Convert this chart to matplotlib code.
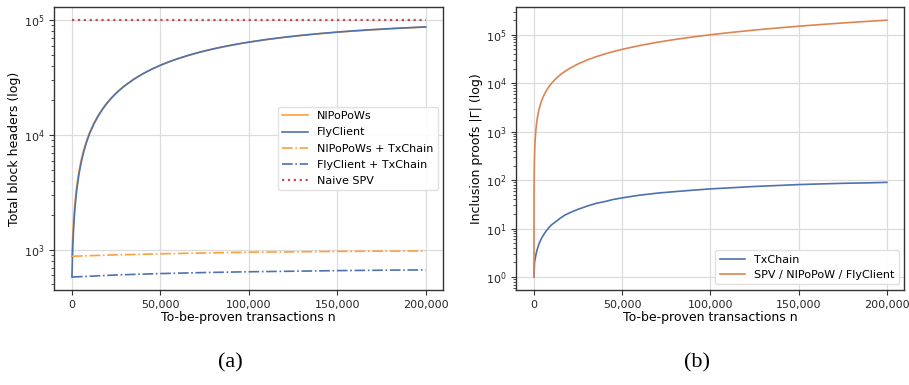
import matplotlib
matplotlib.use("Agg")
import matplotlib.pyplot as plt
from matplotlib.ticker import FuncFormatter

# ---------------- data ----------------
# (a) total block headers vs. to-be-proven transactions
n_a = [0, 250, 500, 750, 1000, 1500, 2000, 2500, 3000, 4000, 5000, 6000, 7000, 8500,
       10000, 12500, 15000, 17500, 20000, 22500, 25000, 27500, 30000, 35000, 40000,
       45000, 50000, 55000, 60000, 65000, 70000, 75000, 80000, 85000, 90000, 95000,
       100000, 110000, 120000, 130000, 140000, 150000, 160000, 170000, 180000, 190000, 200000]
nipopows = [880, 1135, 1390, 1640, 1895, 2400, 2900, 3400, 3890, 4870, 5850, 6810, 7760, 9170,
            10560, 12810, 15010, 17150, 19230, 21260, 23240, 25170, 27050, 30680, 34130,
            37410, 40520, 43480, 46280, 48950, 51490, 53900, 56180, 58360, 60430, 62400,
            64270, 67730, 70850, 73680, 76220, 78530, 80600, 82480, 84170, 85700, 87070]
flyclient = [580, 835, 1090, 1340, 1595, 2100, 2600, 3100, 3590, 4580, 5550, 6520, 7470, 8890,
             10290, 12550, 14770, 16930, 19030, 21080, 23080, 25030, 26930, 30580, 34050,
             37350, 40480, 43460, 46280, 48970, 51530, 53950, 56250, 58440, 60530, 62510,
             64390, 67870, 71010, 73860, 76420, 78740, 80830, 82720, 84420, 85960, 87340]
n_tx = [0, 25000, 50000, 75000, 100000, 125000, 150000, 175000, 200000]
nipopows_tx = [880, 905, 925, 940, 955, 962, 970, 975, 980]
flyclient_tx = [580, 605, 622, 635, 645, 652, 660, 665, 670]
n_spv = [0, 200000]
naive_spv = [100000, 100000]

# (b) inclusion proofs |Γ| vs. to-be-proven transactions
n_b = [1, 3, 10, 30, 100, 200, 300, 500, 700, 1000, 1500, 2000, 2500, 3000, 4000, 5000,
       6000, 7500, 9000, 10000, 12500, 15000, 17500, 20000, 25000, 30000, 35000, 40000,
       45000, 50000, 60000, 70000, 80000, 90000, 100000, 110000, 125000, 140000, 150000,
       165000, 175000, 190000, 200000]
spv_proofs = [1, 3, 10, 30, 100, 200, 300, 500, 700, 1000, 1500, 2000, 2500, 3000, 4000, 5000,
              6000, 7500, 9000, 10000, 12500, 15000, 17500, 20000, 25000, 30000, 35000, 40000,
              45000, 50000, 60000, 70000, 80000, 90000, 100000, 110000, 125000, 140000, 150000,
              165000, 175000, 190000, 200000]
n_chain = [0, 300, 1200, 2100, 3000, 4000, 5000, 6000, 7000, 8000, 9000, 10000, 12500,
           15000, 17500, 20000, 22500, 25000, 30000, 35000, 40000, 45000, 50000, 55000,
           60000, 70000, 80000, 90000, 100000, 110000, 125000, 140000, 150000, 165000,
           175000, 190000, 200000]
txchain = [1, 2, 3, 4, 5, 6, 7, 8, 9, 10, 11, 12, 14,
           16.5, 19, 21, 23, 25, 29, 33, 36, 40, 43, 46,
           49, 54, 58, 62, 66, 69, 74, 78, 81, 84,
           86, 88, 90]

BLUE, ORANGE_A, ORANGE_B, RED = "#4c72b0", "#ffa03a", "#dd8452", "#c44e52"
DARK = "#333333"

plt.rcParams.update({
    "font.family": "DejaVu Sans", "font.size": 8,
    "axes.edgecolor": DARK, "axes.linewidth": 1.0,
    "xtick.color": DARK, "ytick.color": DARK,
    "xtick.labelcolor": "#262626", "ytick.labelcolor": "#262626",
    "xtick.major.size": 3.5, "ytick.major.size": 3.5,
    "ytick.minor.size": 2, "ytick.minor.width": 0.6,
    "grid.color": "#dcdcdc", "grid.linewidth": 0.9,
})

fig = plt.figure(figsize=(9.09, 3.85), dpi=100)
axa = fig.add_axes([0.0597, 0.247, 0.428, 0.734])
axb = fig.add_axes([0.568, 0.247, 0.427, 0.734])
thousands = FuncFormatter(lambda v, p: f"{int(v):,}")

# ---- (a) ----
axa.plot(n_a, nipopows, color=ORANGE_A, lw=1.2, label="NIPoPoWs")
axa.plot(n_a, flyclient, color=BLUE, lw=1.2, label="FlyClient")
axa.plot(n_tx, nipopows_tx, color=ORANGE_A, lw=1.2, ls="-.", label="NIPoPoWs + TxChain")
axa.plot(n_tx, flyclient_tx, color=BLUE, lw=1.2, ls="-.", label="FlyClient + TxChain")
axa.plot(n_spv, naive_spv, color=RED, lw=1.6, ls=":", label="Naive SPV")
axa.set_yscale("log")
axa.set_ylabel("Total block headers (log)", fontsize=9, labelpad=2)
axa.legend(loc="center right", fontsize=8, frameon=True, framealpha=0.9,
           edgecolor="#dddddd", handlelength=2.3, labelspacing=0.55)

# ---- (b) ----
axb.plot(n_chain, txchain, color=BLUE, lw=1.2, label="TxChain")
axb.plot(n_b, spv_proofs, color=ORANGE_B, lw=1.2, label="SPV / NIPoPoW / FlyClient")
axb.set_yscale("log")
axb.set_ylabel("Inclusion proofs |Γ| (log)", fontsize=9, labelpad=2)
axb.legend(loc="lower right", fontsize=8, frameon=True, framealpha=0.9,
           edgecolor="#dddddd", handlelength=2.3, labelspacing=0.45)

for ax in (axa, axb):
    ax.set_xlabel("To-be-proven transactions n", fontsize=9, labelpad=1)
    ax.xaxis.set_major_formatter(thousands)
    ax.set_xticks([0, 50000, 100000, 150000, 200000])
    ax.grid(True, which="major")
    ax.set_axisbelow(True)

fig.text(0.253, 0.045, "(a)", family="Liberation Serif", fontsize=16, ha="center")
fig.text(0.767, 0.045, "(b)", family="Liberation Serif", fontsize=16, ha="center")

fig.savefig("out.png", dpi=100)
